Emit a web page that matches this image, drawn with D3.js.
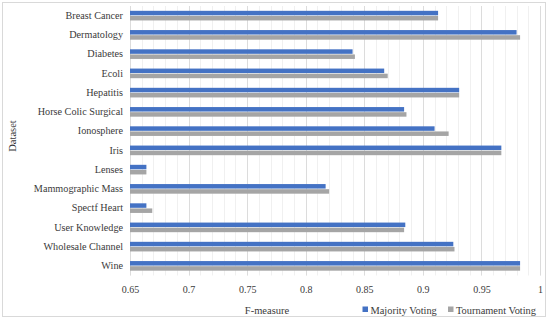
<!DOCTYPE html>
<html><head><meta charset="utf-8">
<script src="https://cdn.jsdelivr.net/npm/d3@7"></script>
<style>
html,body{margin:0;padding:0;background:#fff;}
svg{display:block;}
</style></head>
<body>
<svg id="chart" width="550" height="320"></svg>
<script>
const categories = ["Breast Cancer","Dermatology","Diabetes","Ecoli","Hepatitis","Horse Colic Surgical","Ionosphere","Iris","Lenses","Mammographic Mass","Spectf Heart","User Knowledge","Wholesale Channel","Wine"];
const majorityVoting = [0.913,0.980,0.840,0.867,0.931,0.884,0.910,0.967,0.664,0.817,0.664,0.885,0.926,0.983];
const tournamentVoting = [0.913,0.983,0.842,0.870,0.931,0.886,0.922,0.967,0.664,0.820,0.669,0.884,0.927,0.983];
const seriesNames = ["Majority Voting","Tournament Voting"];
const tickValues = [0.65,0.7,0.75,0.8,0.85,0.9,0.95,1];
const tickLabels = ["0.65","0.7","0.75","0.8","0.85","0.9","0.95","1"];
const colors = ["#4472C4","#A5A5A5"];

const FONT = '"Liberation Serif","DejaVu Serif",serif';
const TXT = "#3a3a3a";
const svg = d3.select("#chart");
const plot = {left:130, right:540, top:6, bottom:275.5};

svg.append("rect").attr("x",2.5).attr("y",2.5).attr("width",543).attr("height",314)
  .attr("fill","#fff").attr("stroke","#D9D9D9").attr("stroke-width",1);

const x = d3.scaleLinear().domain([0.65,1]).range([plot.left, plot.right]);
const y = d3.scaleBand().domain(categories).range([plot.top, plot.bottom]).paddingInner(0.5).paddingOuter(0.25);
const ySub = d3.scaleBand().domain(seriesNames).range([0, y.bandwidth()]).paddingInner(0.12);

const minor = d3.range(65, 101).map(v => v/100);
svg.append("g").selectAll("line").data(minor).join("line")
  .attr("x1", d => Math.round(x(d))+0.5).attr("x2", d => Math.round(x(d))+0.5)
  .attr("y1", plot.top).attr("y2", plot.bottom)
  .attr("stroke","#F0F0F0").attr("stroke-width",1);
svg.append("g").selectAll("line").data(tickValues).join("line")
  .attr("x1", d => Math.round(x(d))+0.5).attr("x2", d => Math.round(x(d))+0.5)
  .attr("y1", plot.top).attr("y2", plot.bottom)
  .attr("stroke","#DCDCDC").attr("stroke-width",1);

const data = categories.map((c,i) => ({cat:c, vals:[majorityVoting[i], tournamentVoting[i]]}));
const groups = svg.append("g").selectAll("g").data(data).join("g")
  .attr("transform", d => `translate(0,${y(d.cat)})`);
groups.selectAll("rect").data(d => d.vals.map((v,j) => ({v, s:seriesNames[j], j}))).join("rect")
  .attr("x", x(0.65))
  .attr("y", d => ySub(d.s))
  .attr("width", d => x(d.v) - x(0.65))
  .attr("height", ySub.bandwidth())
  .attr("fill", d => colors[d.j]);

const xAxis = d3.axisBottom(x).tickValues(tickValues).tickFormat((d,i) => tickLabels[i]).tickSize(0).tickPadding(0);
const gx = svg.append("g").attr("transform", `translate(0,${plot.bottom})`).call(xAxis)
  .attr("font-family", FONT).attr("font-size", 10);
gx.select(".domain").remove();
gx.selectAll("text").attr("fill",TXT).attr("dy","0").attr("y",17);

const yAxis = d3.axisLeft(y).tickSize(0).tickPadding(0);
const gy = svg.append("g").attr("transform", `translate(123,0)`).call(yAxis)
  .attr("font-family", FONT).attr("font-size", 10.2);
gy.select(".domain").remove();
gy.selectAll("text").attr("fill",TXT).attr("x",0);

svg.append("text").attr("x",267).attr("y",314).attr("text-anchor","middle")
  .attr("font-family", FONT).attr("font-size",10.5).attr("fill",TXT).text("F-measure");
svg.append("text").attr("transform","translate(15.5,136) rotate(-90)").attr("text-anchor","middle")
  .attr("font-family", FONT).attr("font-size",10.5).attr("fill",TXT).text("Dataset");

const legend = svg.append("g").attr("font-family", FONT).attr("font-size", 10.4);
const legX = [362.5, 448];
seriesNames.forEach((s,i) => {
  legend.append("rect").attr("x",legX[i]).attr("y",306.5).attr("width",5.5).attr("height",5.5).attr("fill",colors[i]);
  legend.append("text").attr("x",legX[i]+8).attr("y",314).attr("fill",TXT).text(s);
});
</script>
</body></html>
